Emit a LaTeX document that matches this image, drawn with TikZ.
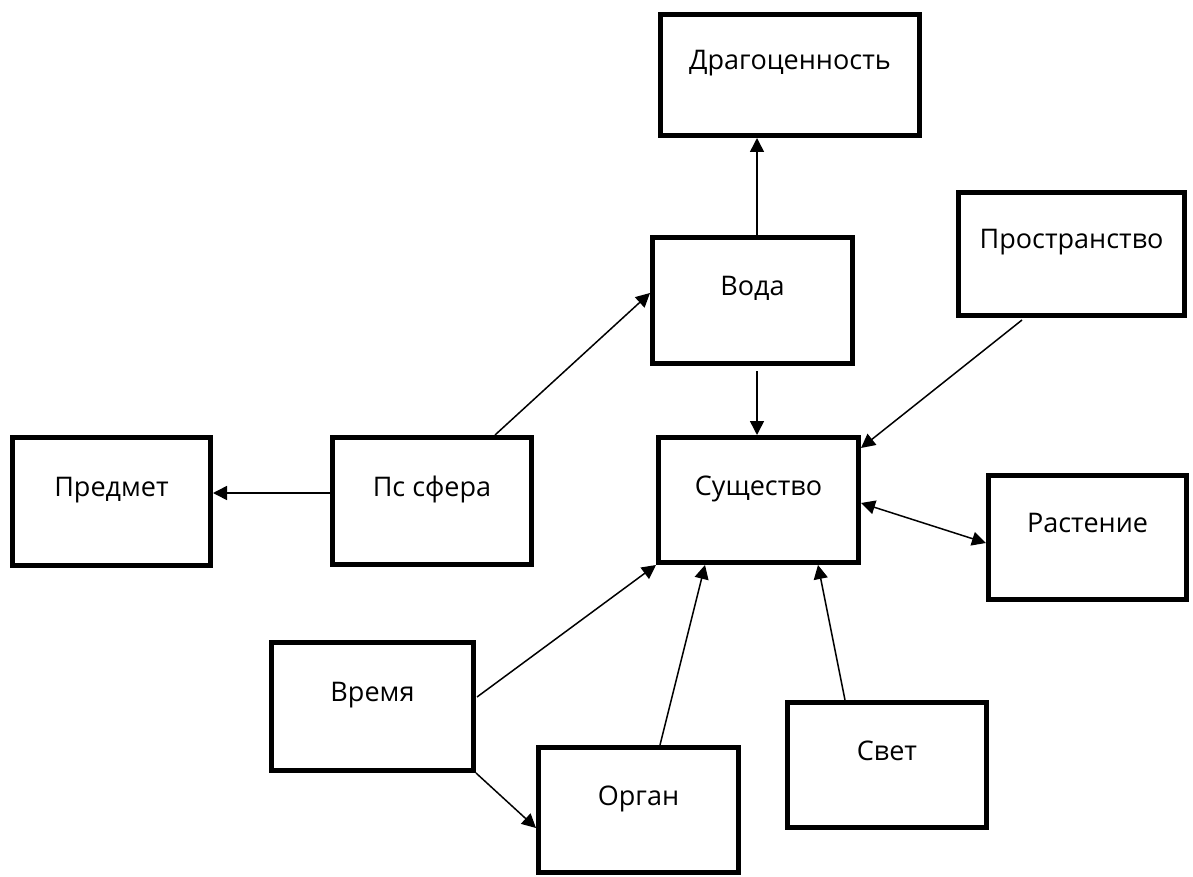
\documentclass[tikz,border=0pt]{standalone}
\usepackage{fontspec}
\setmainfont{Open Sans}
\usetikzlibrary{arrows.meta,calc}
\begin{document}
\begin{tikzpicture}[x=1pt,y=-1pt,
  box/.style={draw, line width=5pt, inner sep=0pt, text height=10pt, text depth=20pt, font=\fontsize{27}{31}\selectfont},
  conn/.style={line width=1.5pt, -{Triangle[length=14pt,width=14pt]}},
  both/.style={line width=1.5pt, {Triangle[length=14pt,width=14pt]}-{Triangle[length=14pt,width=14pt]}}]
\useasboundingbox (0,0) rectangle (1193,877);
\node[box, minimum width=259pt, minimum height=121pt] (drag) at (790,75) {Драгоценность};
\node[box, minimum width=200pt, minimum height=126pt] (voda) at (752.5,300.5) {Вода};
\node[box, minimum width=226pt, minimum height=123pt] (prost) at (1071.5,254) {Пространство};
\node[box, minimum width=198pt, minimum height=128pt] (predmet) at (111.5,501.5) {Предмет};
\node[box, minimum width=199pt, minimum height=127pt] (psfera) at (432,501) {Пс сфера};
\node[box, minimum width=200pt, minimum height=125pt] (sush) at (758.5,500) {Существо};
\node[box, minimum width=198pt, minimum height=124pt] (rast) at (1087.5,537.5) {Растение};
\node[box, minimum width=202pt, minimum height=128pt] (vremya) at (372.5,706.5) {Время};
\node[box, minimum width=200pt, minimum height=125pt] (organ) at (638.5,810) {Орган};
\node[box, minimum width=199pt, minimum height=125pt] (svet) at (887,765) {Свет};
% connectors
\draw[conn] ($(voda.north)+(4.5,4)$) -- ($(drag.south)+(-33,0)$);
\draw[conn] ($(voda.south)+(4.5,5)$) -- ($(sush.north)+(-1.5,0)$);
\draw[conn] ($(psfera.north)+(63,0)$) -- ($(voda.west)+(0,-7.5)$);
\draw[conn] ($(prost.south)+(-49.5,2)$) -- ($(sush.east)+(0,-52)$);
\draw[conn] ($(psfera.west)+(0,-8)$) -- ($(predmet.east)+(0,-8.5)$);
\draw[both] ($(sush.east)+(0,3)$) -- ($(rast.west)+(0,5.5)$);
\draw[conn] ($(vremya.east)+(1,-9.5)$) -- (sush.south west);
\draw[conn] (vremya.south east) -- ($(organ.west)+(0,18)$);
\draw[conn] ($(organ.north)+(21.5,0)$) -- ($(sush.south)+(-53.5,0)$);
\draw[conn] ($(svet.north)+(-42,0)$) -- ($(sush.south)+(59.5,0)$);
\end{tikzpicture}
\end{document}
